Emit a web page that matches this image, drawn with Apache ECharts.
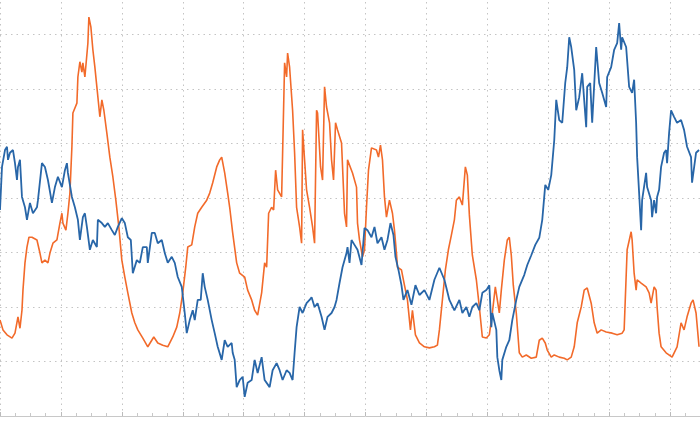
<!DOCTYPE html>
<html>
<head>
<meta charset="utf-8">
<script src="https://cdn.jsdelivr.net/npm/echarts@6/dist/echarts.min.js"></script>
<style>
html,body{margin:0;padding:0;background:#fff;overflow:hidden;width:700px;height:421px;position:relative}
#c{position:absolute;left:0;top:-20px;width:731px;height:441px}
</style>
</head>
<body>
<div id="c"></div>
<script>
// x = day index, y = value
var blueData = [[0,37.8],[2,45.7],[5,48.8],[7,49.4],[8,47.0],[10,48.3],[13,48.8],[15,46.4],[17,43.3],[18,45.7],[20,47.0],[22,40.2],[25,38.3],[27,36.0],[30,39.1],[33,37.2],[37,38.3],[38,39.6],[42,46.4],[45,45.7],[48,43.3],[52,39.1],[55,42.0],[58,43.9],[62,42.0],[65,45.1],[67,46.4],[68,44.6],[72,40.2],[75,38.3],[78,36.0],[80,32.3],[83,36.5],[85,37.2],[87,34.7],[90,30.5],[93,32.3],[97,31.0],[98,36.0],[102,35.4],[105,34.7],[108,35.4],[112,34.1],[115,33.2],[118,34.7],[122,36.3],[125,35.4],[128,32.8],[131,32.3],[133,26.2],[137,28.6],[140,28.1],[143,31.0],[147,31.0],[148,28.1],[152,33.6],[155,33.6],[158,31.7],[162,32.3],[165,29.9],[168,28.1],[172,29.2],[175,28.1],[178,25.5],[182,23.7],[185,18.9],[187,15.2],[190,17.6],[193,19.4],[195,17.6],[198,21.3],[201,21.3],[203,26.2],[205,23.7],[208,21.3],[212,17.6],[215,15.2],[218,12.7],[222,10.3],[225,13.9],[228,12.7],[232,13.4],[233,11.6],[235,10.3],[237,5.3],[240,6.6],[243,7.2],[245,3.5],[248,6.1],[252,6.6],[255,10.3],[258,7.9],[262,10.8],[265,6.6],[270,5.3],[273,8.4],[277,9.7],[280,8.4],[283,6.6],[287,8.4],[290,7.9],[293,6.6],[295,11.6],[297,16.3],[300,20.0],[303,18.9],[307,20.7],[310,21.3],[312,21.8],[315,20.0],[318,20.7],[322,18.2],[325,15.8],[328,18.2],[332,18.9],[335,20.0],[337,21.3],[340,24.4],[343,27.3],[347,29.9],[348,31.0],[350,28.1],[352,32.3],[355,31.4],[358,30.5],[362,27.7],[365,34.5],[368,34.1],[372,32.8],[375,34.7],[378,31.7],[382,32.8],[385,30.5],[388,32.3],[391,35.4],[394,33.2],[396,29.2],[399,26.8],[402,24.0],[404,21.3],[408,23.1],[412,20.4],[416,24.0],[420,22.2],[425,23.1],[430,21.3],[435,25.0],[440,27.2],[445,25.0],[450,21.3],[455,19.4],[460,21.3],[463,18.9],[467,20.0],[470,18.2],[473,20.0],[477,20.7],[480,19.4],[483,22.6],[487,23.1],[490,24.0],[492,16.3],[493,18.9],[497,15.8],[498,10.8],[500,8.4],[502,6.6],[503,10.3],[507,12.7],[510,13.9],[513,17.6],[517,21.3],[520,23.7],[525,25.9],[528,27.7],[532,29.5],[536,31.4],[540,32.7],[543,36.0],[546,42.4],[549,41.5],[552,44.2],[555,50.6],[557,58.0],[560,54.3],[563,53.8],[566,61.1],[568,64.0],[570,69.5],[572,67.7],[575,63.5],[577,56.1],[580,58.5],[583,62.9],[587,53.0],[588,60.4],[591,61.1],[593,53.8],[597,67.7],[600,61.1],[603,59.3],[607,56.7],[608,62.2],[612,64.0],[615,67.2],[618,68.4],[620,72.1],[622,67.2],[623,69.5],[627,67.7],[630,60.4],[633,59.3],[635,61.7],[637,53.8],[638,47.5],[640,40.9],[642,34.1],[643,39.6],[647,44.6],[648,42.0],[652,39.6],[653,36.5],[655,39.6],[657,37.2],[658,40.2],[660,41.5],[662,45.7],[665,48.3],[667,48.8],[668,46.4],[670,51.9],[672,56.1],[675,54.9],[678,53.8],[682,54.3],[685,52.5],[688,49.4],[692,47.5],[693,42.8],[697,48.3],[700,48.8]];

var orangeData = [[0,17.6],[3,15.8],[7,14.9],[12,14.3],[15,15.2],[18,18.2],[20,16.1],[22,19.4],[23,23.1],[25,28.1],[27,31.0],[29,32.8],[32,32.8],[37,32.3],[40,29.9],[42,28.1],[45,28.6],[48,28.1],[50,29.9],[53,31.7],[57,32.3],[60,35.4],[62,37.2],[63,35.4],[66,34.1],[68,37.2],[70,40.9],[72,49.4],[73,55.6],[77,57.4],[78,62.2],[80,65.0],[82,63.1],[83,64.8],[85,62.2],[87,62.2],[88,68.4],[89,73.2],[91,71.4],[93,67.2],[95,64.0],[97,60.4],[100,54.9],[102,58.0],[104,56.1],[107,51.9],[110,47.5],[113,43.9],[116,39.6],[119,34.7],[122,28.6],[125,25.5],[128,22.6],[132,18.9],[135,17.1],[138,15.8],[143,14.3],[148,12.7],[152,13.9],[154,14.5],[158,13.4],[163,13.0],[168,12.7],[173,14.5],[177,16.3],[180,18.9],[183,22.6],[186,27.3],[188,31.0],[192,31.4],[195,34.7],[198,37.2],[202,38.3],[207,39.6],[210,40.9],[213,42.8],[217,45.7],[220,47.0],[222,47.5],[225,44.6],[228,40.9],[230,38.3],[233,33.6],[237,28.1],[240,26.2],[245,25.5],[248,23.1],[252,21.3],[255,19.4],[258,18.5],[262,22.6],[265,28.1],[267,27.3],[269,37.2],[272,38.3],[274,37.8],[276,45.1],[278,41.5],[282,40.2],[283,48.3],[285,64.8],[287,62.2],[288,66.6],[290,64.0],[293,56.1],[295,48.3],[297,38.3],[300,34.7],[302,31.7],[303,52.5],[305,47.0],[307,41.5],[310,38.3],[313,34.7],[315,31.7],[317,56.1],[318,55.6],[321,45.7],[323,43.3],[325,60.4],[327,56.7],[330,53.8],[332,47.0],[334,43.3],[336,53.8],[338,52.5],[342,50.1],[345,37.2],[347,34.7],[348,47.0],[350,47.0],[353,44.6],[357,42.0],[358,35.4],[360,32.3],[363,29.2],[365,30.5],[367,38.3],[369,45.1],[372,49.2],[377,48.8],[379,47.5],[381,49.7],[383,47.0],[385,40.2],[387,36.5],[390,39.6],[393,37.2],[395,34.1],[397,29.9],[398,27.3],[402,26.8],[405,24.0],[408,21.3],[411,15.8],[413,19.4],[416,14.9],[420,13.4],[425,12.7],[430,12.5],[435,12.7],[438,13.0],[440,15.8],[443,21.3],[446,26.8],[449,30.5],[452,33.2],[455,36.0],[457,39.6],[460,40.2],[463,38.7],[466,45.7],[468,44.2],[470,36.9],[473,29.5],[477,25.0],[480,20.0],[483,14.5],[487,14.3],[490,14.9],[493,18.9],[496,23.7],[498,21.3],[500,18.9],[502,23.1],[505,28.6],[508,32.3],[510,32.8],[512,29.5],[514,24.0],[517,18.9],[520,11.6],[523,10.8],[527,11.2],[532,10.6],[537,10.8],[540,13.9],[543,14.3],[546,13.4],[548,12.1],[550,12.1],[552,10.8],[555,11.2],[560,10.8],[565,10.6],[568,10.3],[572,10.8],[575,12.7],[578,17.1],[582,20.0],[585,23.1],[588,23.5],[592,20.7],[595,17.1],[598,15.2],[602,15.8],[607,15.4],[613,15.2],[618,14.9],[623,15.2],[625,15.8],[628,30.5],[632,33.8],[633,32.3],[635,26.2],[637,23.1],[638,25.0],[642,24.4],[647,23.7],[650,22.6],[652,20.7],[655,23.7],[657,23.1],[658,20.0],[660,15.2],[662,12.7],[667,11.6],[673,10.8],[678,12.7],[682,17.1],[685,15.8],[688,18.2],[692,20.7],[694,21.3],[697,18.9],[700,12.7]];

var chart = echarts.init(document.getElementById('c'), null, {renderer: 'canvas'});
var dotted = {color: '#c4c4c4', width: 1, type: [1.5, 4]};
chart.setOption({
  animation: false,
  backgroundColor: '#ffffff',
  grid: {left: 0, right: 0, top: 0, bottom: 5, containLabel: false},
  xAxis: {
    type: 'value', min: 0, max: 732, interval: 61,
    axisLine: {show: true, lineStyle: {color: '#c8c8c8', width: 1}},
    axisTick: {show: true, inside: true, length: 4, lineStyle: {color: '#bbbbbb'}},
    minorTick: {show: true, splitNumber: 4, length: 3, lineStyle: {color: '#c8c8c8'}},
    axisLabel: {show: false},
    splitLine: {show: true, lineStyle: dotted}
  },
  yAxis: {
    type: 'value', min: 0, max: 80, interval: 10,
    axisLine: {show: false}, axisTick: {show: false}, axisLabel: {show: false},
    splitLine: {show: true, lineStyle: dotted}
  },
  series: [
    {type: 'line', data: orangeData, showSymbol: false, symbol: 'none',
     lineStyle: {color: '#f26a2a', width: 1.6}, z: 2},
    {type: 'line', data: blueData, showSymbol: false, symbol: 'none',
     lineStyle: {color: '#2866a8', width: 1.8}, z: 3}
  ]
});
</script>
</body>
</html>
